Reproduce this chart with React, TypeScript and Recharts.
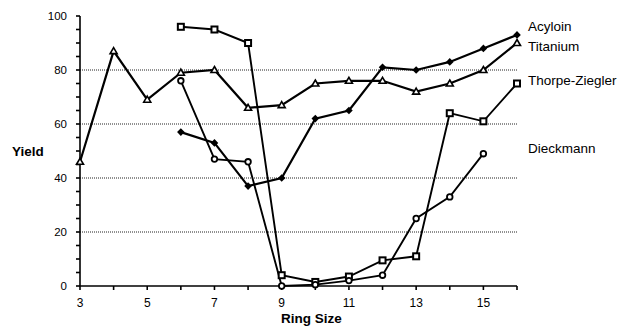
import { LineChart, Line, XAxis, YAxis, CartesianGrid } from 'recharts';

const ringSizes = [3, 4, 5, 6, 7, 8, 9, 10, 11, 12, 13, 14, 15, 16];
const acyloin = [null, null, null, 57, 53, 37, 40, 62, 65, 81, 80, 83, 88, 93];
const titanium = [46, 87, 69, 79, 80, 66, 67, 75, 76, 76, 72, 75, 80, 90];
const thorpeZiegler = [null, null, null, 96, 95, 90, 4, 1.5, 3.5, 9.5, 11, 64, 61, 75];
const dieckmann = [null, null, null, 76, 47, 46, 0, 0.5, 2, 4, 25, 33, 49, null];

const xTicks = [3, 4, 5, 6, 7, 8, 9, 10, 11, 12, 13, 14, 15, 16];
const yTicks = [0, 5, 10, 15, 20, 25, 30, 35, 40, 45, 50, 55, 60, 65, 70, 75, 80, 85, 90, 95, 100];
const gridValues = [20, 40, 60, 80];

const labels = [
  { text: 'Acyloin', top: 19 },
  { text: 'Titanium', top: 39 },
  { text: 'Thorpe-Ziegler', top: 73 },
  { text: 'Dieckmann', top: 141 },
];

const rows = ringSizes.map((r, i) => ({
  ring: r,
  acyloin: acyloin[i],
  titanium: titanium[i],
  thorpe: thorpeZiegler[i],
  dieckmann: dieckmann[i],
}));

const FONT = 'Liberation Sans, Arial, sans-serif';

// marker shapes, small like the scanned original
const diamondFilled = (p: any) => {
  if (p.value == null) return <g key={p.key} />;
  const { cx, cy } = p;
  return <path key={p.key} d={`M${cx},${cy - 3.8}L${cx + 3.8},${cy}L${cx},${cy + 3.8}L${cx - 3.8},${cy}Z`} fill="#000" />;
};
const triangleOpen = (p: any) => {
  if (p.value == null) return <g key={p.key} />;
  const { cx, cy } = p;
  return (
    <path key={p.key} d={`M${cx},${cy - 3.5}L${cx + 3.5},${cy + 2.5}L${cx - 3.5},${cy + 2.5}Z`} fill="#fff" stroke="#000" strokeWidth={1.6} />
  );
};
const squareOpen = (p: any) => {
  if (p.value == null) return <g key={p.key} />;
  const { cx, cy } = p;
  return <rect key={p.key} x={cx - 3} y={cy - 3} width={6} height={6} fill="#fff" stroke="#000" strokeWidth={2} />;
};
const circleOpen = (p: any) => {
  if (p.value == null) return <g key={p.key} />;
  const { cx, cy } = p;
  return <circle key={p.key} cx={cx} cy={cy} r={2.8} fill="#fff" stroke="#000" strokeWidth={1.8} />;
};

export default function App() {
  return (
    <div style={{ position: 'absolute', left: 0, top: 0, width: 641, height: 327, background: '#fff', fontFamily: FONT }}>
      <LineChart width={641} height={327} data={rows} margin={{ top: 16, right: 124, bottom: 11, left: 20 }}>
        <CartesianGrid vertical={false} horizontalValues={gridValues} stroke="#222" strokeDasharray="1 1" />
        <XAxis
          dataKey="ring"
          type="number"
          domain={[3, 16]}
          ticks={xTicks}
          interval={0}
          tickFormatter={(v: number) => (v % 2 === 1 && v < 16 ? String(v) : '')}
          tickSize={4}
          tickMargin={8}
          height={30}
          stroke="#000"
          strokeWidth={1.6}
          tick={{ fill: '#000', fontSize: 12, fontFamily: FONT }}
        />
        <YAxis
          type="number"
          domain={[0, 100]}
          ticks={yTicks}
          interval={0}
          tickFormatter={(v: number) => (v % 20 === 0 ? String(v) : '')}
          tickSize={4}
          tickMargin={9}
          width={60}
          stroke="#000"
          strokeWidth={1.6}
          tick={{ fill: '#000', fontSize: 11.5, fontFamily: FONT }}
        />
        <Line dataKey="titanium" stroke="#000" strokeWidth={2.2} dot={triangleOpen} isAnimationActive={false} />
        <Line dataKey="acyloin" stroke="#000" strokeWidth={2.2} dot={diamondFilled} isAnimationActive={false} />
        <Line dataKey="thorpe" stroke="#000" strokeWidth={1.9} dot={squareOpen} isAnimationActive={false} />
        <Line dataKey="dieckmann" stroke="#000" strokeWidth={1.9} dot={circleOpen} isAnimationActive={false} />
      </LineChart>
      <div style={{ position: 'absolute', left: 12, top: 144, fontSize: 13.5, fontWeight: 'bold' }}>Yield</div>
      <div style={{ position: 'absolute', left: 281, top: 311, fontSize: 13.5, fontWeight: 'bold' }}>Ring Size</div>
      {labels.map((l) => (
        <div key={l.text} style={{ position: 'absolute', left: 528, top: l.top, fontSize: 13.5 }}>
          {l.text}
        </div>
      ))}
    </div>
  );
}
